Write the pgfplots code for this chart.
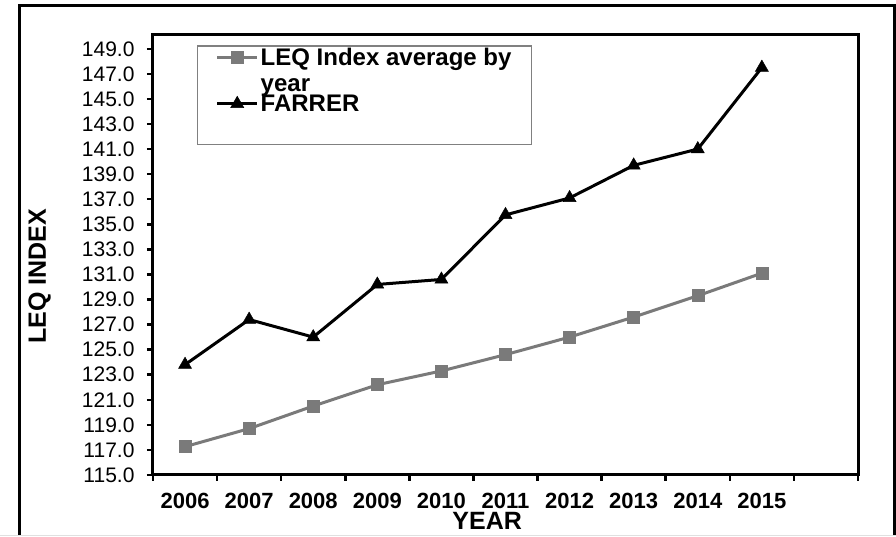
\documentclass[border=0pt]{standalone}
\usepackage{pgfplots}
\pgfplotsset{compat=1.18}
\usepackage{fontspec}
\setmainfont{Liberation Sans}
\definecolor{sergray}{RGB}{122,122,122}
\definecolor{boxgray}{RGB}{128,128,128}
\newcommand\yl[1]{{\fontsize{21}{21}\selectfont #1}}
\newcommand\xl[1]{{\fontsize{22}{22}\selectfont\bfseries #1}}
\begin{document}
\begin{tikzpicture}[x=1pt,y=1pt]
\useasboundingbox (-153,-62) rectangle (743,475);
\draw[line width=3pt] (-133,-60) -- (-133,469) -- (741,469) -- (741,-60);
\draw[line width=1pt, black!12] (-153,-60.5) -- (743,-60.5);
\begin{axis}[
  at={(0pt,0pt)}, anchor=south west,
  scale only axis, width=705pt, height=440pt,
  xmin=-0.5, xmax=10.5, ymin=115, ymax=150.1,
  axis line style={line width=3pt},
  tick align=outside, major tick length=6pt,
  tick style={line width=2.5pt, black},
  xtick pos=bottom, ytick pos=left,
  xtick={-0.5,0.5,...,10.5},
  xticklabels={\xl{2006},\xl{2007},\xl{2008},\xl{2009},\xl{2010},\xl{2011},\xl{2012},\xl{2013},\xl{2014},\xl{2015},{},{}},
  xticklabel style={xshift=32.05pt, yshift=-9pt},
  ytick={115,117,119,121,123,125,127,129,131,133,135,137,139,141,143,145,147,149},
  yticklabels={\yl{115.0},\yl{117.0},\yl{119.0},\yl{121.0},\yl{123.0},\yl{125.0},\yl{127.0},\yl{129.0},\yl{131.0},\yl{133.0},\yl{135.0},\yl{137.0},\yl{139.0},\yl{141.0},\yl{143.0},\yl{145.0},\yl{147.0},\yl{149.0}},
  yticklabel shift=9pt,
  xlabel={YEAR}, ylabel={LEQ INDEX},
  xlabel style={font=\fontsize{25}{25}\selectfont\bfseries, at={(axis description cs:0.474,-0.1045)}, anchor=center},
  ylabel style={font=\fontsize{25}{25}\selectfont\bfseries, at={(axis description cs:-0.161,0.452)}, anchor=center},
  legend style={at={(axis description cs:0.0624,0.977)}, anchor=north west,
    draw=boxgray, line width=1.5pt, inner xsep=18pt, inner ysep=0pt,
    font=\fontsize{24}{27}\selectfont\bfseries, row sep=24pt},
  legend cell align=left,
  legend image code/.code={\draw[mark repeat=2,mark phase=2,#1] plot coordinates {(0pt,0pt) (20pt,0pt) (40pt,0pt)};},
  clip=false,
]
\addplot[sergray, line width=3pt, mark=square*, mark size=6pt, mark options={solid, fill=sergray, draw=sergray, line width=0.5pt}]
  coordinates {(0,117.26) (1,118.7) (2,120.5) (3,122.2) (4,123.3) (5,124.6) (6,126.0) (7,127.6) (8,129.3) (9,131.1)};
\addlegendentry{\rlap{\smash{\raisebox{-26pt}{year}}}LEQ Index average by}
\addplot[black, line width=3pt, mark=triangle*, mark size=7.5pt, mark options={solid, fill=black, line width=0.5pt}]
  coordinates {(0,123.8) (1,127.4) (2,126.0) (3,130.2) (4,130.6) (5,135.75) (6,137.1) (7,139.7) (8,141.0) (9,147.5)};
\addlegendentry{FARRER}
\addlegendimage{empty legend}
\addlegendentry{}
\end{axis}
\end{tikzpicture}
\end{document}
